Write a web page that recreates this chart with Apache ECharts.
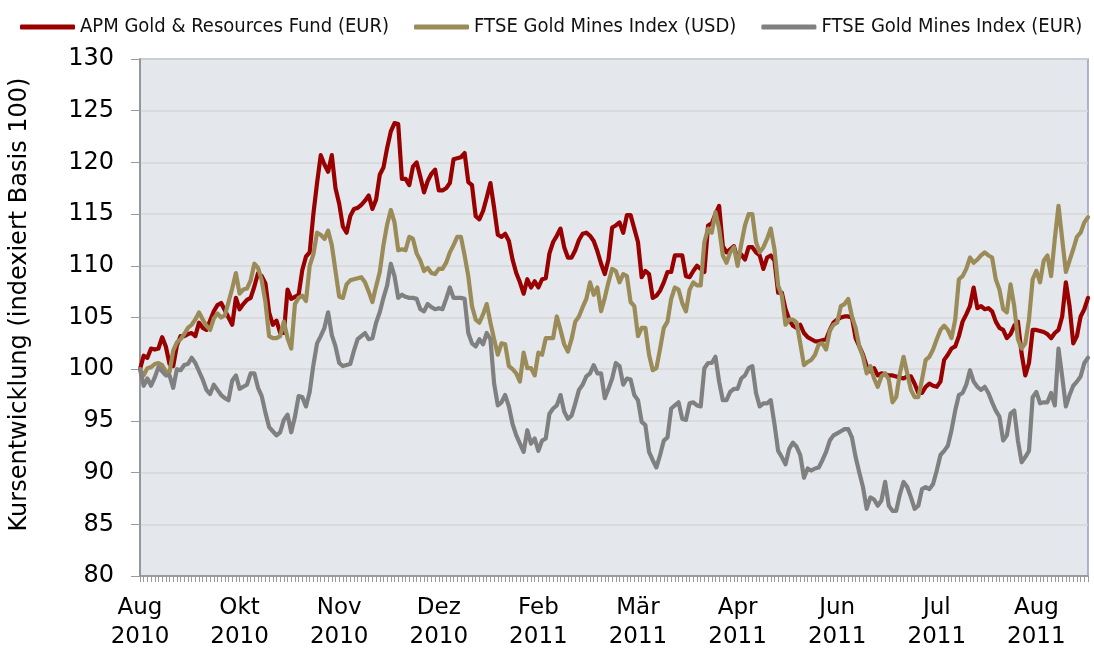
<!DOCTYPE html>
<html>
<head>
<meta charset="utf-8">
<script src="https://cdn.jsdelivr.net/npm/echarts@6/dist/echarts.min.js"></script>
<style>
  html, body { margin: 0; padding: 0; background: #fff; }
  #chart { width: 1094px; height: 652px; }
</style>
</head>
<body>
<div id="chart"></div>
<script>
// month labels shown every 27 trading days
const tickLabels = ['Aug\n2010', 'Okt\n2010', 'Nov\n2010', 'Dez\n2010', 'Feb\n2011',
  'Mär\n2011', 'Apr\n2011', 'Jun\n2011', 'Jul\n2011', 'Aug\n2011'];
const labelStep = 27;

const apmFund = [
  100.0, 101.3, 101.1, 102.0, 101.9, 102.0, 103.1, 102.2, 100.5, 100.3,
  102.3, 103.2, 103.2, 103.4, 103.5, 103.2, 104.5, 104.0, 103.8, 104.7,
  105.6, 106.2, 106.4, 105.7, 105.0, 104.3, 106.9, 105.8, 106.3, 106.7,
  106.9, 108.0, 109.3, 109.0, 108.3, 105.5, 104.3, 104.7, 103.5, 103.5,
  107.7, 106.8, 107.0, 107.2, 109.6, 110.9, 111.3, 115.0, 118.0, 120.7,
  119.8, 119.1, 120.7, 117.5, 116.0, 113.8, 113.2, 114.8, 115.5, 115.6,
  115.9, 116.3, 116.8, 115.5, 116.4, 118.8, 119.5, 121.4, 123.0, 123.8,
  123.7, 118.4, 118.4, 117.8, 119.6, 120.0, 118.6, 117.1, 118.2, 118.9,
  119.3, 117.3, 117.3, 117.5, 118.0, 120.3, 120.4, 120.5, 120.9, 118.1,
  117.8, 114.8, 114.5, 115.3, 116.6, 118.0, 115.6, 113.0, 112.8, 113.1,
  112.4, 110.6, 109.3, 108.4, 107.3, 108.7, 107.9, 108.5, 107.9, 108.7,
  108.8, 111.2, 112.3, 112.9, 113.6, 111.8, 110.8, 110.8, 111.5, 112.5,
  113.1, 113.2, 112.9, 112.4, 111.4, 110.2, 109.2, 110.6, 113.7, 113.9,
  114.2, 113.2, 114.9, 114.9, 113.6, 112.3, 108.9, 109.5, 109.2, 106.9,
  107.1, 107.6, 108.4, 109.4, 109.4, 111.0, 111.0, 111.0, 109.0, 108.9,
  109.5, 110.0, 109.7, 109.4, 113.9, 114.1, 115.0, 115.8, 111.9, 111.3,
  111.6, 111.9, 110.6, 111.1, 110.6, 111.8, 111.8, 111.3, 111.0, 109.7,
  110.8, 111.0, 110.5, 107.4, 107.4, 105.8, 104.8, 104.2, 104.0, 104.3,
  103.5, 103.1, 102.9, 102.7, 102.7, 102.8, 102.9, 103.8, 104.5, 104.8,
  105.0, 105.1, 105.1, 105.0, 103.0, 102.2, 101.4, 100.3, 99.8, 100.1,
  99.4, 99.6, 99.5, 99.4, 99.4, 99.3, 99.2, 99.1, 99.3, 99.3,
  98.6, 97.7, 97.7, 98.3, 98.6, 98.4, 98.3, 98.8, 100.9, 101.4,
  102.0, 102.2, 103.2, 104.6, 105.3, 106.1, 107.9, 105.9, 106.1, 105.8,
  105.9, 105.6, 104.6, 104.0, 103.8, 103.0, 103.4, 104.2, 104.6, 101.5,
  99.4, 100.6, 103.8, 103.8, 103.7, 103.6, 103.4, 103.0, 103.5, 103.8,
  105.1, 108.4, 106.1, 102.5, 103.2, 105.1, 105.8, 106.9
];

const ftseUsd = [
  100.0, 99.4, 100.1, 100.2, 100.5, 100.6, 100.4, 99.8, 99.7, 101.8,
  102.6, 102.9, 103.4, 104.0, 104.3, 104.8, 105.5, 104.8, 104.2, 103.8,
  104.9, 105.4, 105.0, 105.2, 106.5, 107.8, 109.3, 107.3, 107.7, 107.8,
  108.6, 110.2, 109.8, 108.6, 106.5, 103.2, 103.0, 103.0, 103.2, 104.6,
  103.0, 102.0, 106.3, 106.9, 107.1, 106.6, 110.0, 111.1, 113.2, 113.0,
  112.6, 113.4, 112.0, 109.5, 107.0, 106.9, 108.2, 108.6, 108.7, 108.8,
  108.9, 108.4, 107.5, 106.5, 108.0, 109.4, 112.0, 114.0, 115.4, 114.2,
  111.5, 111.6, 111.5, 112.8, 112.6, 111.2, 110.5, 109.5, 109.8, 109.3,
  109.2, 109.7, 109.7, 110.3, 111.3, 112.0, 112.8, 112.8, 111.0, 109.0,
  106.1, 104.8, 104.5, 105.3, 106.3, 104.5, 102.9, 101.4, 102.5, 102.4,
  100.3, 100.0, 99.6, 98.8, 101.6, 100.1, 100.1, 99.4, 101.6, 101.4,
  103.0, 103.0, 103.0, 105.1, 103.8, 102.4, 101.7, 102.9, 104.6, 105.1,
  106.0, 106.8, 108.4, 107.2, 107.9, 105.6, 106.9, 108.4, 109.7, 109.5,
  108.4, 109.2, 109.0, 106.5, 106.1, 103.2, 104.0, 104.0, 101.4, 99.9,
  100.1, 102.0, 104.0, 104.6, 106.8, 107.9, 107.7, 106.4, 105.6, 107.7,
  108.4, 108.1, 108.1, 112.3, 113.6, 113.2, 115.2, 113.6, 111.0, 110.3,
  111.3, 111.8, 110.0, 112.1, 113.9, 115.0, 115.0, 112.3, 111.3, 111.8,
  112.6, 113.6, 111.6, 108.1, 107.1, 104.3, 104.8, 104.8, 104.5, 102.5,
  100.4, 100.7, 100.9, 101.4, 102.4, 102.5, 101.9, 103.7, 104.3, 104.5,
  106.1, 106.3, 106.8, 105.1, 104.0, 102.2, 101.2, 99.6, 100.3, 99.1,
  98.3, 99.3, 99.6, 99.0, 96.8, 97.3, 99.6, 101.2, 99.6, 98.0,
  97.3, 97.3, 99.0, 100.9, 101.2, 101.9, 102.9, 103.8, 104.2, 103.8,
  103.0, 104.8, 108.7, 109.0, 109.7, 110.8, 110.3, 110.6, 111.0, 111.3,
  111.0, 110.8, 108.7, 107.7, 105.8, 105.5, 108.2, 106.1, 102.9, 102.0,
  102.5, 104.8, 108.7, 109.5, 108.4, 110.5, 111.0, 109.0, 112.6, 115.8,
  112.6, 109.4, 110.5, 111.6, 112.8, 113.2, 114.2, 114.7
];

const ftseEur = [
  100.0, 98.4, 99.1, 98.4, 99.2, 100.2, 99.8, 99.4, 99.4, 98.2,
  100.0, 99.9, 100.4, 100.5, 101.1, 100.6, 99.8, 99.0, 98.0, 97.6,
  98.5, 98.0, 97.5, 97.2, 97.0, 98.9, 99.4, 98.1, 98.3, 98.5,
  99.6, 99.6, 98.2, 97.4, 95.8, 94.4, 94.0, 93.6, 93.9, 95.1,
  95.6, 93.9, 95.4, 97.4, 97.3, 96.4, 97.8, 100.4, 102.5, 103.2,
  104.0, 105.5, 103.3, 102.2, 100.6, 100.3, 100.4, 100.5, 101.8, 102.9,
  103.2, 103.5, 102.9, 103.0, 104.5, 105.5, 106.9, 108.1, 110.2, 109.0,
  106.9, 107.2, 107.0, 106.9, 106.9, 106.8, 105.8, 105.6, 106.3, 106.0,
  105.8, 105.9, 105.8, 106.8, 107.9, 106.9, 106.9, 106.9, 106.8, 103.5,
  102.5, 102.2, 102.9, 102.4, 103.5, 102.9, 98.6, 96.5, 96.8, 97.5,
  96.4, 94.7, 93.6, 92.8, 92.0, 94.1, 92.8, 93.3, 92.1, 93.1,
  93.3, 95.7, 96.2, 96.5, 97.5, 95.9, 95.2, 95.5, 96.7, 98.0,
  98.5, 99.3, 99.6, 100.4, 99.6, 99.6, 97.2, 98.1, 99.1, 100.6,
  100.3, 98.5, 99.1, 99.0, 97.5, 97.0, 94.9, 94.6, 92.0, 91.2,
  90.5, 91.7, 93.1, 93.4, 96.2, 96.5, 96.8, 95.2, 95.1, 96.7,
  96.8, 96.5, 96.4, 100.1, 100.6, 100.6, 101.2, 98.8, 97.0, 97.0,
  97.8, 98.1, 98.1, 99.1, 99.4, 100.1, 100.3, 97.7, 96.4, 96.7,
  96.7, 97.0, 94.7, 92.1, 91.5, 90.8, 92.3, 92.9, 92.5, 91.7,
  89.5, 90.4, 90.2, 90.4, 90.5, 91.2, 92.0, 93.1, 93.6, 93.8,
  94.0, 94.2, 94.2, 93.4, 91.5, 90.0, 88.6, 86.5, 87.6, 87.4,
  86.8, 87.3, 89.1, 86.8, 86.3, 86.3, 87.9, 89.1, 88.6, 87.6,
  86.5, 86.8, 88.4, 88.6, 88.4, 88.9, 90.2, 91.7, 92.1, 92.6,
  94.1, 96.0, 97.5, 97.7, 98.5, 99.9, 98.8, 98.3, 98.0, 98.3,
  97.7, 96.8, 96.0, 95.4, 93.1, 93.6, 95.7, 96.0, 93.1, 91.0,
  91.5, 92.1, 97.3, 97.8, 96.7, 96.8, 96.8, 97.7, 96.5, 102.0,
  99.3, 96.4, 97.5, 98.4, 98.8, 99.3, 100.6, 101.1
];

const seriesNames = ['APM Gold & Resources Fund (EUR)', 'FTSE Gold Mines Index (USD)', 'FTSE Gold Mines Index (EUR)'];
const seriesColors = ['#990000', '#9a8b58', '#808080'];

// one category per trading day, label text only where a month label sits
const categories = apmFund.map((v, i) => (i % labelStep === 0 ? tickLabels[i / labelStep] || '' : ''));

const font = '"DejaVu Sans", Verdana, sans-serif';

const chart = echarts.init(document.getElementById('chart'));

const makeSeries = (name, data, color) => ({
  name,
  type: 'line',
  data,
  symbol: 'none',
  showSymbol: false,
  lineStyle: { color, width: 4.2, cap: 'round', join: 'round' },
  itemStyle: { color },
});

chart.setOption({
  animation: false,
  backgroundColor: '#ffffff',
  legend: {
    left: 15,
    top: 12,
    itemWidth: 55,
    itemHeight: 5,
    itemGap: 25,
    icon: 'roundRect',
    textStyle: {
      fontFamily: '"DejaVu Sans Condensed", "DejaVu Sans", sans-serif',
      fontSize: 20,
      color: '#111',
    },
    data: seriesNames,
  },
  grid: {
    left: 134,
    right: 6,
    top: 59,
    bottom: 72,
    show: true,
    backgroundColor: '#e4e8ec',
    borderColor: '#9a9ac2',
    borderWidth: 1.5,
  },
  xAxis: {
    type: 'category',
    data: categories,
    boundaryGap: false,
    axisLine: { lineStyle: { color: '#8c8c8c', width: 1.5 } },
    axisTick: { show: true, interval: 0, length: 6, lineStyle: { color: '#9a9a9a' } },
    axisLabel: {
      interval: labelStep - 1,
      fontFamily: font,
      fontSize: 23,
      lineHeight: 29,
      color: '#000',
      margin: 18,
    },
    splitLine: { show: false },
  },
  yAxis: {
    type: 'value',
    min: 80,
    max: 130,
    interval: 5,
    name: 'Kursentwicklung (indexiert Basis 100)',
    nameLocation: 'middle',
    nameRotate: 90,
    nameGap: 108,
    nameTextStyle: { fontFamily: font, fontSize: 24, color: '#000', padding: [0, 0, 0, 26] },
    axisLine: { show: true, lineStyle: { color: '#8c8c8c', width: 1.5 } },
    axisTick: { show: true, length: 9, lineStyle: { color: '#9a9a9a' } },
    axisLabel: { fontFamily: font, fontSize: 24, color: '#000', margin: 26 },
    splitLine: { lineStyle: { color: '#d6d6d6', width: 1.5 } },
  },
  series: [
    makeSeries(seriesNames[0], apmFund, seriesColors[0]),
    makeSeries(seriesNames[1], ftseUsd, seriesColors[1]),
    makeSeries(seriesNames[2], ftseEur, seriesColors[2]),
  ],
});
</script>
</body>
</html>
